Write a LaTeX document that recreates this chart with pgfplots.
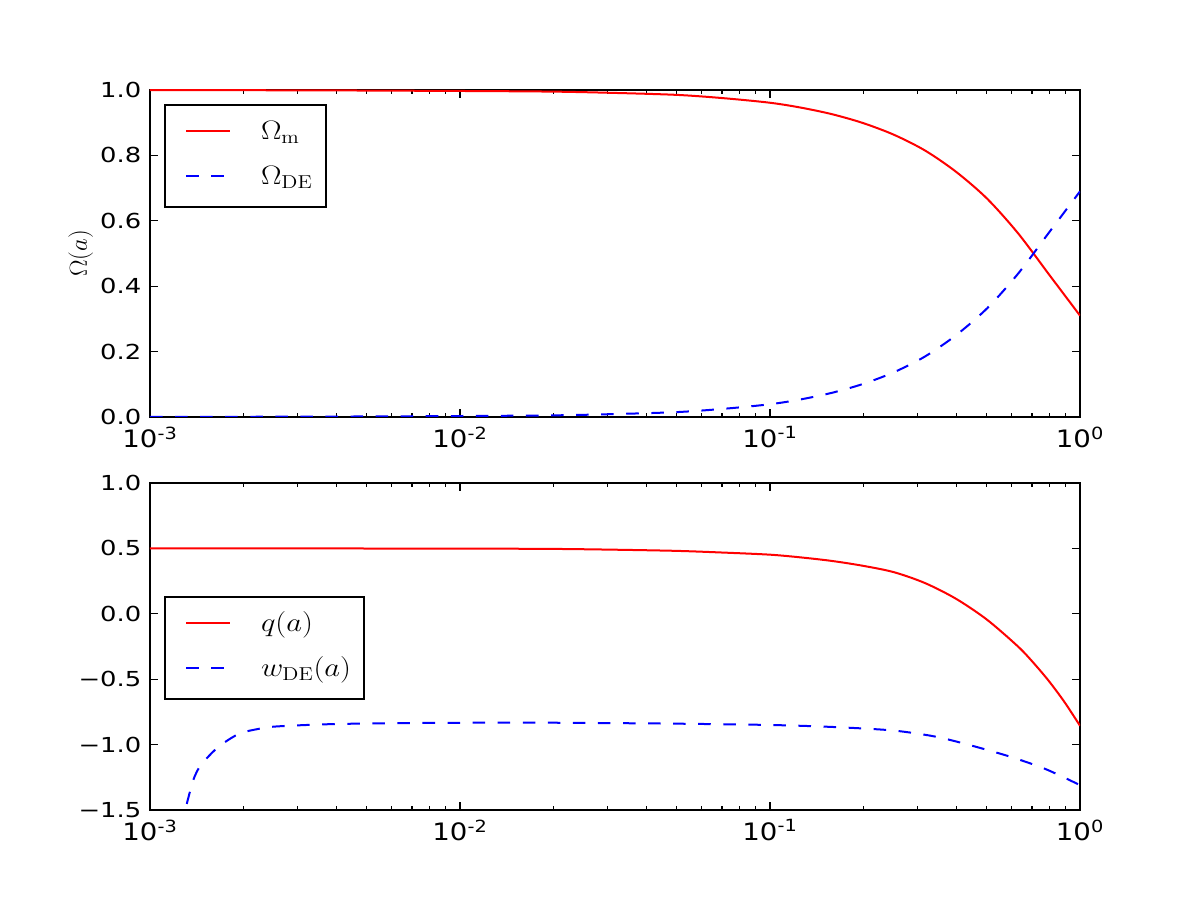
\RequirePackage{fix-cm}
\documentclass[border=0pt]{standalone}
\usepackage[no-math]{fontspec}
\setmainfont{DejaVu Sans}
\usepackage{pgfplots}
\pgfplotsset{compat=1.18}

\pgfplotstableread{
a        om
0.001    0.9995
0.00316  0.999
0.01     0.997
0.02     0.995
0.03162  0.991
0.05012  0.985
0.07079  0.975
0.1      0.961
0.1259   0.946
0.1585   0.926
0.1995   0.899
0.2512   0.863
0.3162   0.815
0.3981   0.750
0.5012   0.668
0.6310   0.562
0.7943   0.436
0.8913   0.373
1.0      0.310
}\omegam

\pgfplotstableread{
a        ode
0.001    0.0005
0.00316  0.001
0.01     0.003
0.02     0.005
0.03162  0.009
0.05012  0.015
0.07079  0.025
0.1      0.039
0.1259   0.054
0.1585   0.074
0.1995   0.101
0.2512   0.137
0.3162   0.185
0.3981   0.250
0.5012   0.332
0.6310   0.438
0.7943   0.564
0.8913   0.627
1.0      0.690
}\omegade

\pgfplotstableread{
a        q
0.001    0.4998
0.00316  0.4995
0.01     0.4985
0.02     0.496
0.03162  0.490
0.05012  0.481
0.07079  0.468
0.1      0.452
0.1259   0.431
0.1585   0.404
0.1995   0.367
0.2512   0.318
0.3162   0.235
0.3981   0.115
0.5012   -0.045
0.6310   -0.250
0.7079   -0.375
0.7943   -0.515
0.8913   -0.675
1.0      -0.856
}\qtab

\pgfplotstableread{
a         w
0.001259  -1.64
0.001312  -1.46
0.001380  -1.27
0.001445  -1.17
0.001524  -1.105
0.001622  -1.04
0.001722  -0.99
0.001950  -0.914
0.002239  -0.88
0.002500  -0.863
0.003206  -0.85
0.004102  -0.842
0.006310  -0.836
0.01      -0.833
0.02104   -0.833
0.03162   -0.836
0.05012   -0.840
0.1       -0.850
0.1585    -0.865
0.2438    -0.890
0.3162    -0.925
0.3715    -0.958
0.4753    -1.025
0.6095    -1.100
0.7798    -1.190
1.0       -1.310
}\wtab

\tikzset{
  redline/.style={red, line width=1.5pt, smooth},
  blueline/.style={blue, line width=1.5pt, smooth, dash pattern=on 9.4pt off 9.4pt},
}

\begin{document}
\begin{tikzpicture}
\path[use as bounding box, fill=white] (0,0) rectangle (900pt,675pt);
\begin{axis}[
  scale only axis, width=697.5pt, height=245.25pt,
  anchor=south west, at={(112.5pt,362.25pt)},
  xmode=log, xmin=1e-3, xmax=1,
  xtick={1e-3,1e-2,1e-1,1},
  xticklabels={10\textsuperscript{-3},10\textsuperscript{-2},10\textsuperscript{-1},10\textsuperscript{0}},
  axis line style={line width=1.6pt},
  every tick/.style={black, line width=0.8pt},
  major tick length=6.25pt, minor tick length=3.1pt,
  tick align=inside,
  xticklabel style={font=\fontsize{18}{20}\selectfont, xscale=1.15, inner sep=0.5pt, yshift=-6.5pt},
  yticklabel style={font=\fontsize{15.5}{18}\selectfont, xscale=1.25, inner xsep=1pt, inner ysep=0pt, xshift=-4pt},
  ymin=0, ymax=1,
  ytick={0,0.2,0.4,0.6,0.8,1.0},
  yticklabels={0.0,0.2,0.4,0.6,0.8,1.0},
  ylabel={$\Omega(a)$},
  every axis y label/.style={at={(axis description cs:-0.0745,0.5)}, rotate=90, anchor=center, font=\fontsize{18.5}{20}\selectfont},
  legend cell align=left,
  legend image code/.code={\path[draw=none] (0pt,0pt) -- (62.25pt,0pt); \draw[#1] (6pt,2pt) -- (39pt,2pt);},
  legend style={at={(0.015,0.957)}, anchor=north west,
    draw=black, line width=1.6pt, fill=white,
    inner xsep=9.75pt, inner ysep=8.5pt, row sep=7.9pt,
    font=\fontsize{20}{22}\selectfont,
    nodes={inner sep=0pt, text height=17.25pt, text depth=8.6pt, xscale=1.15}},
]
\addplot[redline] table[x=a, y=om] {\omegam};
\addlegendentry{$\Omega_{\mathrm{m}}$}
\addplot[blueline] table[x=a, y=ode] {\omegade};
\addlegendentry{$\Omega_{\mathrm{DE}}$}
\end{axis}
\begin{axis}[
  scale only axis, width=697.5pt, height=245.25pt,
  anchor=south west, at={(112.5pt,67.5pt)},
  xmode=log, xmin=1e-3, xmax=1,
  xtick={1e-3,1e-2,1e-1,1},
  xticklabels={10\textsuperscript{-3},10\textsuperscript{-2},10\textsuperscript{-1},10\textsuperscript{0}},
  axis line style={line width=1.6pt},
  every tick/.style={black, line width=0.8pt},
  major tick length=6.25pt, minor tick length=3.1pt,
  tick align=inside,
  xticklabel style={font=\fontsize{18}{20}\selectfont, xscale=1.15, inner sep=0.5pt, yshift=-6.5pt},
  yticklabel style={font=\fontsize{15.5}{18}\selectfont, xscale=1.25, inner xsep=1pt, inner ysep=0pt, xshift=-4pt},
  ymin=-1.5, ymax=1,
  ytick={-1.5,-1,-0.5,0,0.5,1},
  yticklabels={−1.5,−1.0,−0.5,0.0,0.5,1.0},
  legend cell align=left,
  legend image code/.code={\path[draw=none] (0pt,0pt) -- (62.25pt,0pt); \draw[#1] (6pt,2pt) -- (39pt,2pt);},
  legend style={at={(0.015,0.654)}, anchor=north west,
    draw=black, line width=1.6pt, fill=white,
    inner xsep=9.75pt, inner ysep=8.5pt, row sep=7.9pt,
    font=\fontsize{20}{22}\selectfont,
    nodes={inner sep=0pt, text height=17.25pt, text depth=8.6pt, xscale=1.15}},
]
\addplot[redline] table[x=a, y=q] {\qtab};
\addlegendentry{$q(a)$}
\addplot[blueline] table[x=a, y=w] {\wtab};
\addlegendentry{$w_{\mathrm{DE}}(a)$}
\end{axis}
\end{tikzpicture}
\end{document}
